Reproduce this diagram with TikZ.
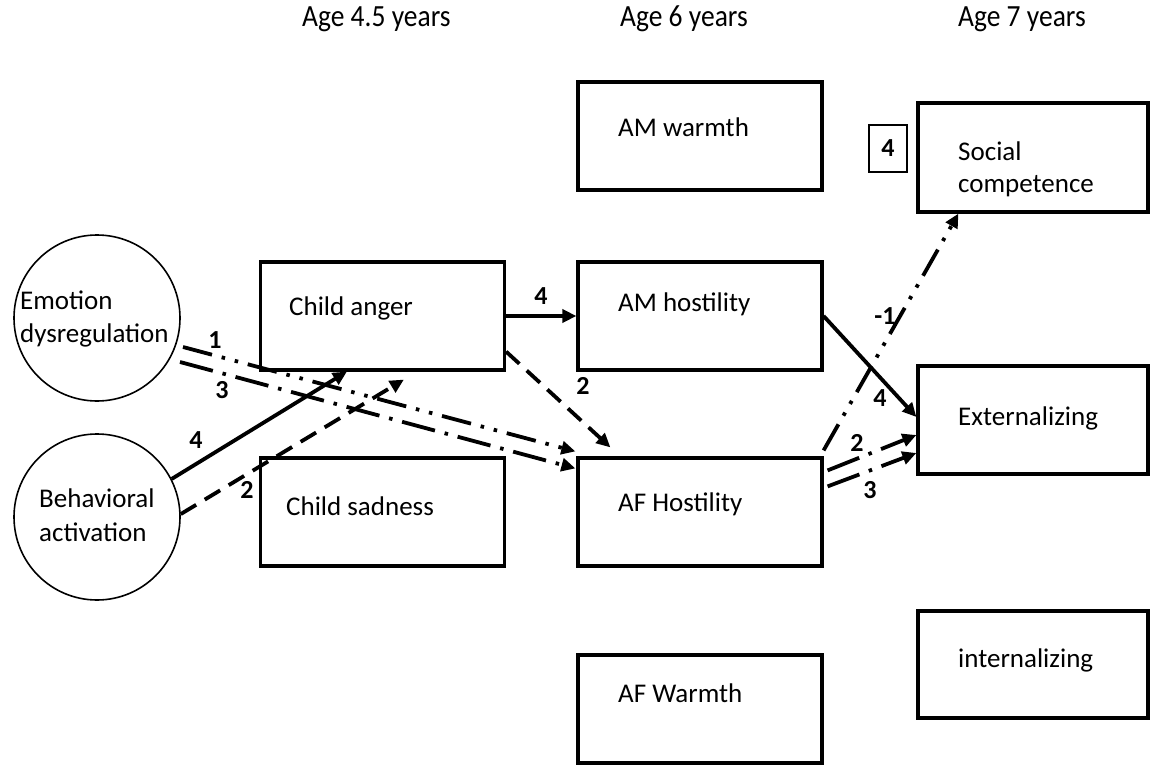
\documentclass[tikz,border=0pt]{standalone}
\usepackage{fontspec}
\setmainfont{Carlito}
\usetikzlibrary{arrows.meta,calc}
\begin{document}
\begin{tikzpicture}[x=1pt,y=-1pt,
  box/.style={draw,line width=3.2pt,rectangle,minimum width=244pt,minimum height=108pt,inner sep=0pt},
  narrowbox/.style={box,minimum width=230pt},
  circ/.style={draw,line width=1.6pt,circle,minimum size=166pt,inner sep=0pt},
  txt/.style={anchor=base west,font=\fontsize{27}{32}\selectfont,inner sep=0pt},
  hdr/.style={txt,font=\fontsize{27.5}{32}\selectfont},
  lbl/.style={font=\bfseries\fontsize{26}{30}\selectfont,inner sep=0pt},
  link/.style={line width=3.8pt,-{Triangle[length=14pt,width=13pt]}},
  dashlink/.style={link,dash pattern=on 18pt off 10pt},
  dotlink/.style={link,dash pattern=on 34pt off 10pt on 3.5pt off 10pt},
  dotdotlink/.style={link,dash pattern=on 30pt off 10pt on 3.5pt off 10pt on 3.5pt off 10pt},
]
\useasboundingbox (0,0) rectangle (1160,765);

% column headers
\node[hdr] (h1) at (302,27) {\scalebox{1}[1.12]{Age 4.5 years}};
\node[hdr] (h2) at (620,27) {\scalebox{1}[1.12]{Age 6 years}};
\node[hdr] (h3) at (958,27) {\scalebox{1}[1.12]{Age 7 years}};

% latent temperament factors
\node[circ] (emo) at (97,318) {};
\node[circ] (beh) at (97,517) {};
\node[txt] (emo1) at (20,309) {Emotion};
\node[txt] (emo2) at (20,342) {dysregulation};
\node[txt] (beh1) at (39,507) {Behavioral};
\node[txt] (beh2) at (39,541) {activation};

% observed measures
\node[box] (ca) at (382.5,316) {};
\node[box] (cs) at (382.5,512) {};
\node[box] (amw) at (700,136) {};
\node[box] (amh) at (700,316) {};
\node[box] (afh) at (700,512) {};
\node[box] (afw) at (700,709) {};
\node[narrowbox,minimum height=109pt] (soc) at (1033,157.5) {};
\node[narrowbox] (ext) at (1033,420) {};
\node[narrowbox,minimum height=107pt] (int) at (1033,664.5) {};
\node[draw,line width=1.6pt,minimum width=38pt,minimum height=47pt,inner sep=0pt,
      font=\bfseries\fontsize{26}{30}\selectfont] (four) at (888,148.5) {4};

\node[txt] (tca) at (289,315) {Child anger};
\node[txt] (tcs) at (286,515) {Child sadness};
\node[txt] (tamw) at (618,137) {AM warmth};
\node[txt] (tamh) at (618,311) {AM hostility};
\node[txt] (tafh) at (618,511) {AF Hostility};
\node[txt] (tafw) at (618,702) {AF Warmth};
\node[txt] (tsoc1) at (958,161) {Social};
\node[txt] (tsoc2) at (958,193) {competence};
\node[txt] (text) at (958,425) {Externalizing};
\node[txt] (tint) at (958,667) {internalizing};

% paths
\draw[link] (ca.east) -- (amh.west);
\draw[dashlink] ($(ca.south east)+(0,-20)$) -- ($(afh.north west)+(34,-9)$);
\draw[dotdotlink] ($(emo.center)+(86,29)$) -- ($(afh.north west)+(-1,-5)$);
\draw[dotlink] ($(emo.center)+(83,44)$) -- ($(afh.north west)+(-1,12)$);
\draw[link] (beh.27) -- ($(ca.south west)+(88,0)$);
\draw[dashlink] (beh.2) -- ($(ca.south west)+(145,8)$);
\draw[link] (amh.east) -- ($(ext.west)+(0,-3)$);
\draw[dotdotlink] ($(afh.north east)+(0,-6)$) -- ($(soc.south west)+(42,0)$);
\draw[dotlink] ($(afh.north east)+(4,14)$) -- ($(ext.west)+(0,15)$);
\draw[dotlink] ($(afh.north east)+(4,30)$) -- ($(ext.west)+(0,33)$);

% path weights
\node[lbl] (w1) at (541,296) {4};
\node[lbl] (w2) at (583,386) {2};
\node[lbl] (w3) at (215,340) {1};
\node[lbl] (w4) at (222,390) {3};
\node[lbl] (w5) at (196,440) {4};
\node[lbl] (w6) at (247,490) {2};
\node[lbl] (w7) at (885,316) {-1};
\node[lbl] (w8) at (880,398) {4};
\node[lbl] (w9) at (857,443) {2};
\node[lbl] (w10) at (870,490) {3};
\end{tikzpicture}
\end{document}
